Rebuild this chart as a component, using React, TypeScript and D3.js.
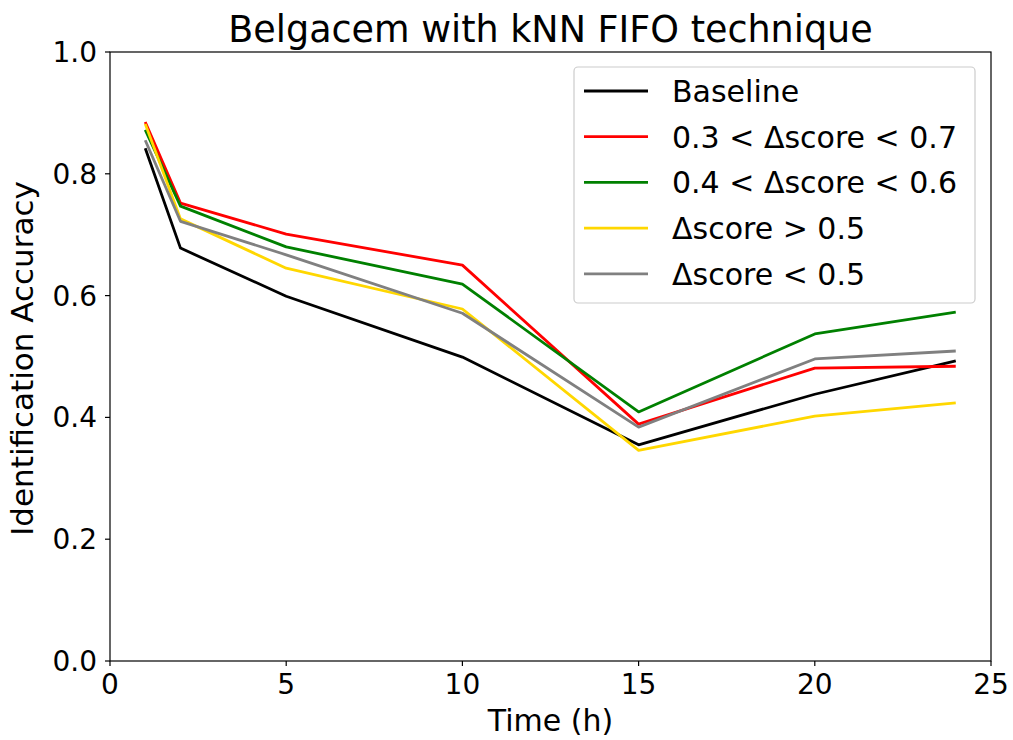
import React from "react";
import * as d3 from "d3";

// Time points (hours) and identification accuracy per configuration
const hours = [1, 2, 5, 10, 15, 20, 24];
const baseline = [0.842, 0.678, 0.599, 0.499, 0.355, 0.438, 0.493];
const range37 = [0.885, 0.752, 0.701, 0.650, 0.389, 0.481, 0.484];
const range46 = [0.872, 0.747, 0.680, 0.619, 0.409, 0.537, 0.573];
const above05 = [0.882, 0.726, 0.645, 0.578, 0.346, 0.402, 0.424];
const below05 = [0.855, 0.722, 0.667, 0.571, 0.384, 0.496, 0.509];

const seriesNames = [
  "Baseline",
  "0.3 < Δscore < 0.7",
  "0.4 < Δscore < 0.6",
  "Δscore > 0.5",
  "Δscore < 0.5",
];
const seriesValues = [baseline, range37, range46, above05, below05];
const seriesColors = ["#000000", "#ff0000", "#008000", "#ffd700", "#808080"];

const xTicks = [0, 5, 10, 15, 20, 25];
const yTicks = [0, 0.2, 0.4, 0.6, 0.8, 1.0];

const W = 1013;
const H = 740;
const M = { left: 110, right: 991, top: 52, bottom: 661 };
const FONT = "'DejaVu Sans', sans-serif";

export default function App() {
  const x = d3.scaleLinear().domain([0, 25]).range([M.left, M.right]);
  const y = d3.scaleLinear().domain([0, 1]).range([M.bottom, M.top]);
  const line = d3
    .line<number>()
    .x((_, i) => x(hours[i]))
    .y((v) => y(v));

  const legend = { x: 574, y: 67, w: 401, h: 236 };
  const rowY = (i: number) => 91 + i * 45.7;

  return (
    <svg
      width={W}
      height={H}
      style={{ position: "absolute", left: 0, top: 0, background: "#fff" }}
      fontFamily={FONT}
    >
      <rect x={0} y={0} width={W} height={H} fill="#fff" />
      <text x={(M.left + M.right) / 2} y={42} textAnchor="middle" fontSize={36.5}>
        Belgacem with kNN FIFO technique
      </text>

      {seriesValues.map((vals, i) => (
        <path
          key={seriesNames[i]}
          d={line(vals) || ""}
          fill="none"
          stroke={seriesColors[i]}
          strokeWidth={2.8}
          strokeLinejoin="round"
        />
      ))}

      {/* axes frame */}
      <rect
        x={M.left}
        y={M.top}
        width={M.right - M.left}
        height={M.bottom - M.top}
        fill="none"
        stroke="#000"
        strokeWidth={1.2}
      />

      {xTicks.map((t) => (
        <g key={"x" + t}>
          <line x1={x(t)} x2={x(t)} y1={M.bottom} y2={M.bottom + 5} stroke="#000" strokeWidth={1.2} />
          <text x={x(t)} y={694} textAnchor="middle" fontSize={28}>
            {t}
          </text>
        </g>
      ))}
      {yTicks.map((t) => (
        <g key={"y" + t}>
          <line x1={M.left - 5} x2={M.left} y1={y(t)} y2={y(t)} stroke="#000" strokeWidth={1.2} />
          <text x={97} y={y(t)} dy="0.36em" textAnchor="end" fontSize={28}>
            {t.toFixed(1)}
          </text>
        </g>
      ))}

      <text x={(M.left + M.right) / 2} y={731} textAnchor="middle" fontSize={30}>
        Time (h)
      </text>
      <text
        transform={`translate(33,${(M.top + M.bottom) / 2 + 2}) rotate(-90)`}
        textAnchor="middle"
        fontSize={31}
      >
        Identification Accuracy
      </text>

      {/* legend */}
      <rect
        x={legend.x}
        y={legend.y}
        width={legend.w}
        height={legend.h}
        rx={4}
        fill="#fff"
        fillOpacity={0.8}
        stroke="#cccccc"
        strokeWidth={1.2}
      />
      {seriesNames.map((name, i) => (
        <g key={"lg" + name}>
          <line x1={584} x2={648} y1={rowY(i)} y2={rowY(i)} stroke={seriesColors[i]} strokeWidth={2.8} />
          <text x={672} y={rowY(i)} dy="0.36em" fontSize={30}>
            {name}
          </text>
        </g>
      ))}
    </svg>
  );
}
